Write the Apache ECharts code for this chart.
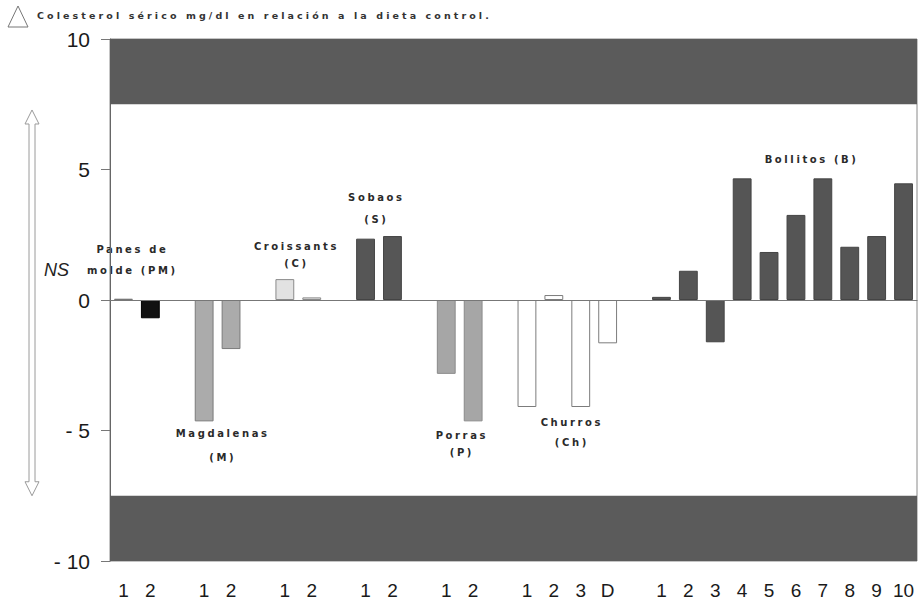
<!DOCTYPE html>
<html>
<head>
<meta charset="utf-8">
<script src="https://cdn.jsdelivr.net/npm/echarts@6/dist/echarts.min.js"></script>
<style>
  html, body { margin: 0; padding: 0; background: #fff; }
  #chart { width: 920px; height: 605px; }
  /* wide, typewriter-like spacing for the annotation lettering */
  #chart svg text[style*="DejaVu"], #chart svg text[font-family*="DejaVu"] { letter-spacing: 2.6px; }
  #chart svg text[style*="Verdana"], #chart svg text[font-family*="Verdana"] { letter-spacing: 3.1px; }
</style>
</head>
<body>
<div id="chart"></div>
<script>
// Change in serum cholesterol (mg/dl) versus the control diet, by bakery product
const categories = ['1','2','', '1','2','', '1','2','', '1','2','', '1','2','',
                    '1','2','3','D','', '1','2','3','4','5','6','7','8','9','10'];
const panesMolde  = [0.05, -0.7];
const magdalenas  = [-4.65, -1.88];
const croissants  = [0.8, 0.1];
const sobaos      = [2.35, 2.45];
const porras      = [-2.83, -4.65];
const churros     = [-4.1, 0.19, -4.1, -1.66];
const bollitos    = [0.12, 1.12, -1.62, 4.66, 1.84, 3.26, 4.66, 2.04, 2.45, 4.47];
const yTicks      = [-10, -5, 0, 5, 10];

// group captions: text lines, category position (fractional slot) and value of each line
const groupLabelLines = [['Panes de', 'molde (PM)'], ['Magdalenas', '(M)'], ['Croissants', '(C)'],
                         ['Sobaos', '(S)'], ['Porras', '(P)'], ['Churros', '(Ch)'], ['Bollitos (B)']];
const groupLabelX = [0.33, 3.69, 6.43, 9.4, 12.58, 16.67, 25.58];
const groupLabelY = [[1.94, 1.12], [-5.10, -6.05], [2.04, 1.38], [3.91, 3.07],
                     [-5.21, -5.85], [-4.71, -5.47], [5.39]];

// group order in the category axis, each followed by one empty slot
const groups = [
  { values: panesMolde, styles: [{ color: '#9a9a9a', borderColor: '#777' }, { color: '#111', borderColor: '#000' }] },
  { values: magdalenas, style: { color: '#ababab', borderColor: '#7a7a7a' } },
  { values: croissants, style: { color: '#e2e2e2', borderColor: '#8a8a8a' } },
  { values: sobaos,     style: { color: '#565656', borderColor: '#444' } },
  { values: porras,     style: { color: '#a6a6a6', borderColor: '#8a8a8a' } },
  { values: churros,    style: { color: '#ffffff', borderColor: '#7c7c7c' } },
  { values: bollitos,   style: { color: '#555555', borderColor: '#444' } }
];

const barData = [];
groups.forEach((g, gi) => {
  g.values.forEach((v, i) => {
    const s = g.styles ? g.styles[i] : g.style;
    barData.push({ value: v, itemStyle: { color: s.color, borderColor: s.borderColor, borderWidth: 1 } });
  });
  if (gi < groups.length - 1) barData.push('-');
});

const font = '"Liberation Sans", Arial, sans-serif';
const labelFont = '"DejaVu Sans", sans-serif';
const titleFont = '"DejaVu Sans", Verdana, sans-serif';
const chart = echarts.init(document.getElementById('chart'), null, { renderer: 'svg' });

chart.setOption({
  animation: false,
  backgroundColor: '#fff',
  grid: { left: 110, right: 3, top: 39, bottom: 44, show: true, borderColor: '#8a8a8a', borderWidth: 1, backgroundColor: 'transparent' },
  xAxis: {
    type: 'category',
    data: categories,
    axisLine: { lineStyle: { color: '#666', width: 1 } },
    axisTick: { alignWithLabel: true, interval: 0, length: 10, lineStyle: { color: '#777' } },
    axisLabel: { interval: 0, fontSize: 19, color: '#1a1a1a', fontFamily: font, margin: 20 },
    splitLine: { show: false }
  },
  yAxis: {
    type: 'value',
    min: yTicks[0], max: yTicks[yTicks.length - 1], interval: 5,
    axisLine: { show: true, lineStyle: { color: '#666' } },
    axisTick: { show: true, length: 9, lineStyle: { color: '#777' } },
    axisLabel: { fontSize: 21, color: '#1a1a1a', fontFamily: font, margin: 20,
                 formatter: v => (v < 0 ? '- ' + Math.abs(v) : String(v)) },
    splitLine: { show: false }
  },
  series: [{
    type: 'bar',
    data: barData,
    barWidth: '70%',
    z: 3,
    markArea: {
      silent: true,
      itemStyle: { color: '#5b5b5b' },
      data: [
        [{ yAxis: 7.5 }, { yAxis: 10 }],
        [{ yAxis: -10 }, { yAxis: -7.5 }]
      ]
    },
    markLine: {
      silent: true,
      symbol: 'none',
      label: { show: false },
      lineStyle: { color: '#777', type: 'solid', width: 1 },
      data: [{ yAxis: 0 }]
    }
  }]
});

// pixel position of a (possibly fractional) category slot and a value
function toPixel(slot, value) {
  const i0 = Math.floor(slot), f = slot - i0;
  const a = chart.convertToPixel({ gridIndex: 0 }, [i0, value]);
  const b = chart.convertToPixel({ gridIndex: 0 }, [i0 + 1, value]);
  return [a[0] + f * (b[0] - a[0]), a[1]];
}

const captionTexts = [];
groupLabelLines.forEach((lines, gi) => {
  lines.forEach((line, li) => {
    const p = toPixel(groupLabelX[gi], groupLabelY[gi][li]);
    captionTexts.push({
      type: 'text', id: 'cap' + gi + '_' + li, x: p[0], y: p[1], silent: true,
      style: { text: line, fontSize: 10, fontWeight: 'bold', fontFamily: labelFont,
               fill: '#2a2a2a', textAlign: 'center', textVerticalAlign: 'middle' }
    });
  });
});

// title line, NS note and the hollow double-headed arrow spanning the NS range
const yTop = chart.convertToPixel({ yAxisIndex: 0 }, 7.28);
const yBot = chart.convertToPixel({ yAxisIndex: 0 }, -7.5);
const cx = 32, hw = 3, aw = 7, ah = 14;
chart.setOption({
  graphic: captionTexts.concat([
    { id: 'delta', type: 'polygon', shape: { points: [[18, 6], [8, 27], [28, 27]] },
      style: { fill: 'none', stroke: '#777', lineWidth: 1 } },
    { id: 'title', type: 'text', x: 37, y: 15,
      style: { text: 'Colesterol sérico mg/dl en relación a la dieta control.', fontSize: 9.5,
               fontWeight: 'bold', fontFamily: titleFont, fill: '#333', textVerticalAlign: 'middle' } },
    { id: 'ns', type: 'text', x: 44, y: 261,
      style: { text: 'NS', fontSize: 18, fontStyle: 'italic', fontFamily: font, fill: '#222' } },
    { id: 'arrow', type: 'polygon', z: 10,
      shape: { points: [
        [cx, yTop], [cx + aw, yTop + ah], [cx + hw, yTop + ah], [cx + hw, yBot - ah],
        [cx + aw, yBot - ah], [cx, yBot], [cx - aw, yBot - ah], [cx - hw, yBot - ah],
        [cx - hw, yTop + ah], [cx - aw, yTop + ah]
      ] },
      style: { fill: '#fff', stroke: '#9a9a9a', lineWidth: 1 } }
  ])
});
</script>
</body>
</html>
